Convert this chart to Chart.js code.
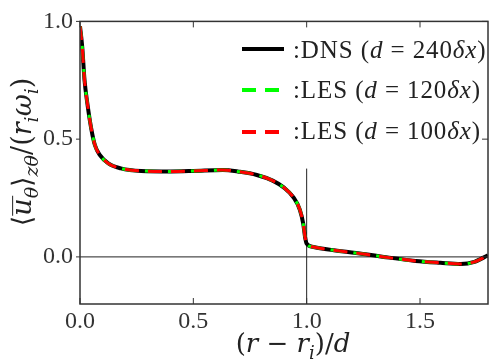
<!DOCTYPE html>
<html>
<head>
<meta charset="utf-8">
<script src="https://cdn.jsdelivr.net/npm/chart.js@4/dist/chart.umd.min.js"></script>
<style>
  html, body { margin: 0; padding: 0; background: #fff; }
  #wrap { width: 491px; height: 362px; position: relative; }
</style>
</head>
<body>
<div id="wrap"><canvas id="profileChart"></canvas></div>
<script>
// radial position (r - r_i)/d
const radius = [0, 0.01, 0.02, 0.032, 0.05, 0.066, 0.088, 0.125, 0.18, 0.27, 0.4, 0.5, 0.63, 0.7, 0.78, 0.85, 0.9, 0.94, 0.97, 0.985, 0.993, 1.0, 1.03, 1.12, 1.26, 1.34, 1.48, 1.59, 1.68, 1.74, 1.8];
// mean azimuthal velocity
const dnsVel    = [0.98, 0.89, 0.75, 0.655, 0.543, 0.474, 0.432, 0.397, 0.376, 0.365, 0.363, 0.365, 0.369, 0.362, 0.348, 0.324, 0.294, 0.255, 0.2, 0.14, 0.084, 0.056, 0.042, 0.028, 0.011, 0.0, -0.017, -0.025, -0.03, -0.021, 0.007];
const les120Vel = [0.98, 0.89, 0.75, 0.655, 0.543, 0.474, 0.432, 0.397, 0.376, 0.365, 0.363, 0.365, 0.369, 0.362, 0.348, 0.324, 0.294, 0.255, 0.2, 0.14, 0.084, 0.056, 0.042, 0.028, 0.011, 0.0, -0.017, -0.025, -0.03, -0.021, 0.007];
const les100Vel = [0.98, 0.89, 0.75, 0.655, 0.543, 0.474, 0.432, 0.397, 0.376, 0.365, 0.363, 0.365, 0.369, 0.362, 0.348, 0.324, 0.294, 0.255, 0.2, 0.14, 0.084, 0.056, 0.042, 0.028, 0.011, 0.0, -0.017, -0.025, -0.03, -0.021, 0.007];
const xTicks = [0, 0.5, 1.0, 1.5];
const yTicks = [0, 0.5, 1.0];

const TICKFONT = '"Liberation Serif", serif';
const MATHFONT = '"DejaVu Serif", serif';
const INK = '#333';

function pts(ys) {
    return radius.map((x, i) => ({ x: x, y: ys[i] }));
}

// draws a run of text pieces, each with its own style
function richText(ctx, parts, x, y, size, align, family, spacing) {
    const fontOf = p => (p.it ? 'italic ' : '') + Math.round(size * (p.sub ? 0.7 : 1)) + 'px ' + family;
    ctx.letterSpacing = (spacing || 0) + 'px';
    let total = 0;
    parts.forEach(p => { ctx.font = fontOf(p); p.w = ctx.measureText(p.t).width; total += p.w; });
    let cx = align === 'center' ? x - total / 2 : x;
    parts.forEach(p => {
        ctx.font = fontOf(p);
        const dy = p.sub ? size * 0.25 : 0;
        ctx.fillText(p.t, cx, y + dy);
        if (p.bar) {
            ctx.beginPath();
            ctx.lineWidth = 1;
            ctx.moveTo(cx, y - size * 0.68);
            ctx.lineTo(cx + p.bar, y - size * 0.68);
            ctx.stroke();
        }
        cx += p.w;
    });
    ctx.letterSpacing = '0px';
}

const decor = {
    id: 'decor',
    beforeDatasetsDraw(chart) {
        const ctx = chart.ctx;
        const xs = chart.scales.x, ys = chart.scales.y;
        ctx.save();
        ctx.strokeStyle = '#222';
        ctx.lineWidth = 1;
        ctx.beginPath();
        ctx.moveTo(xs.left, ys.getPixelForValue(0));
        ctx.lineTo(xs.right, ys.getPixelForValue(0));
        ctx.moveTo(xs.getPixelForValue(1.0), ys.getPixelForValue(-0.2));
        ctx.lineTo(xs.getPixelForValue(1.0), ys.getPixelForValue(0.375));
        ctx.stroke();
        ctx.restore();
    },
    afterDraw(chart) {
        const ctx = chart.ctx;
        const a = chart.chartArea;
        const xs = chart.scales.x, ys = chart.scales.y;
        ctx.save();
        // frame
        ctx.strokeStyle = INK;
        ctx.lineWidth = 1.5;
        ctx.strokeRect(a.left, a.top, a.right - a.left, a.bottom - a.top);
        // ticks
        ctx.lineWidth = 1;
        ctx.beginPath();
        xTicks.forEach(v => {
            const px = xs.getPixelForValue(v);
            ctx.moveTo(px, a.bottom); ctx.lineTo(px, a.bottom - 6);
            ctx.moveTo(px, a.top); ctx.lineTo(px, a.top + 6);
        });
        yTicks.forEach(v => {
            const py = ys.getPixelForValue(v);
            ctx.moveTo(a.left, py); ctx.lineTo(a.left - 4, py);
            ctx.moveTo(a.right, py); ctx.lineTo(a.right - 6, py);
        });
        ctx.stroke();

        // legend
        const entries = [
            { ds: chart.data.datasets[0], y: 49, base: 58, name: ':DNS (', n: '240' },
            { ds: chart.data.datasets[1], y: 90, base: 98, name: ':LES (', n: '120' },
            { ds: chart.data.datasets[2], y: 132, base: 139, name: ':LES (', n: '100' },
        ];
        entries.forEach(e => {
            ctx.beginPath();
            ctx.strokeStyle = e.ds.borderColor;
            ctx.lineWidth = 4;
            ctx.setLineDash(e.ds.borderDash || []);
            ctx.moveTo(242, e.y);
            ctx.lineTo(284, e.y);
            ctx.stroke();
            ctx.setLineDash([]);
            ctx.fillStyle = '#222';
            ctx.textBaseline = 'alphabetic';
            ctx.textAlign = 'left';
            richText(ctx, [
                { t: e.name }, { t: 'd', it: true }, { t: ' = ' + e.n }, { t: 'δx', it: true }, { t: ')' }
            ], 293, e.base, 25, 'left', TICKFONT, 0.9);
        });

        // x title
        ctx.fillStyle = '#222';
        ctx.strokeStyle = '#222';
        ctx.textAlign = 'left';
        richText(ctx, [
            { t: '(' }, { t: 'r', it: true }, { t: ' − ' }, { t: 'r', it: true }, { t: 'i', it: true, sub: true },
            { t: ')/' }, { t: 'd', it: true }
        ], 293, 352, 26, 'center', MATHFONT);

        // y title, rotated
        ctx.translate(31, 152);
        ctx.rotate(-Math.PI / 2);
        richText(ctx, [
            { t: '⟨' }, { t: 'u', it: true, bar: 20 }, { t: 'θ', it: true, sub: true }, { t: '⟩' },
            { t: 'zθ', it: true, sub: true }, { t: '/(' }, { t: 'r', it: true }, { t: 'i', it: true, sub: true },
            { t: 'ω', it: true }, { t: 'i', it: true, sub: true }, { t: ')' }
        ], 0, 0, 27, 'center', MATHFONT);
        ctx.restore();
    }
};

const ctx = document.getElementById('profileChart').getContext('2d');
new Chart(ctx, {
    type: 'line',
    data: {
        datasets: [
            {
                label: 'DNS',
                data: pts(dnsVel),
                borderColor: '#000000',
                borderWidth: 4,
                order: 3
            },
            {
                label: 'LES 120',
                data: pts(les120Vel),
                borderColor: '#00ff00',
                borderWidth: 3,
                borderDash: [14, 9],
                borderDashOffset: 3,
                order: 2
            },
            {
                label: 'LES 100',
                data: pts(les100Vel),
                borderColor: '#ff0000',
                borderWidth: 3,
                borderDash: [14, 9],
                order: 1
            }
        ]
    },
    options: {
        responsive: true,
        maintainAspectRatio: false,
        animation: false,
        parsing: false,
        layout: { padding: { top: 17, right: 3, left: 0, bottom: 0 } },
        elements: {
            point: { radius: 0 },
            line: { cubicInterpolationMode: 'monotone', fill: false }
        },
        plugins: {
            legend: { display: false },
            tooltip: { enabled: false }
        },
        scales: {
            x: {
                type: 'linear',
                min: 0,
                max: 1.8,
                grid: { display: false, drawTicks: false },
                border: { display: false },
                afterBuildTicks: s => { s.ticks = xTicks.map(v => ({ value: v })); },
                afterFit: s => { s.height = 58; },
                ticks: {
                    padding: 3,
                    color: INK,
                    font: { family: TICKFONT, size: 24 },
                    callback: v => v.toFixed(1)
                }
            },
            y: {
                min: -0.2,
                max: 1.0,
                grid: { display: false, drawTicks: false },
                border: { display: false },
                afterBuildTicks: s => { s.ticks = yTicks.map(v => ({ value: v })); },
                afterFit: s => { s.width = 80; },
                ticks: {
                    padding: 7,
                    color: INK,
                    font: { family: TICKFONT, size: 24 },
                    callback: v => v.toFixed(1)
                }
            }
        }
    },
    plugins: [decor]
});
</script>
</body>
</html>
